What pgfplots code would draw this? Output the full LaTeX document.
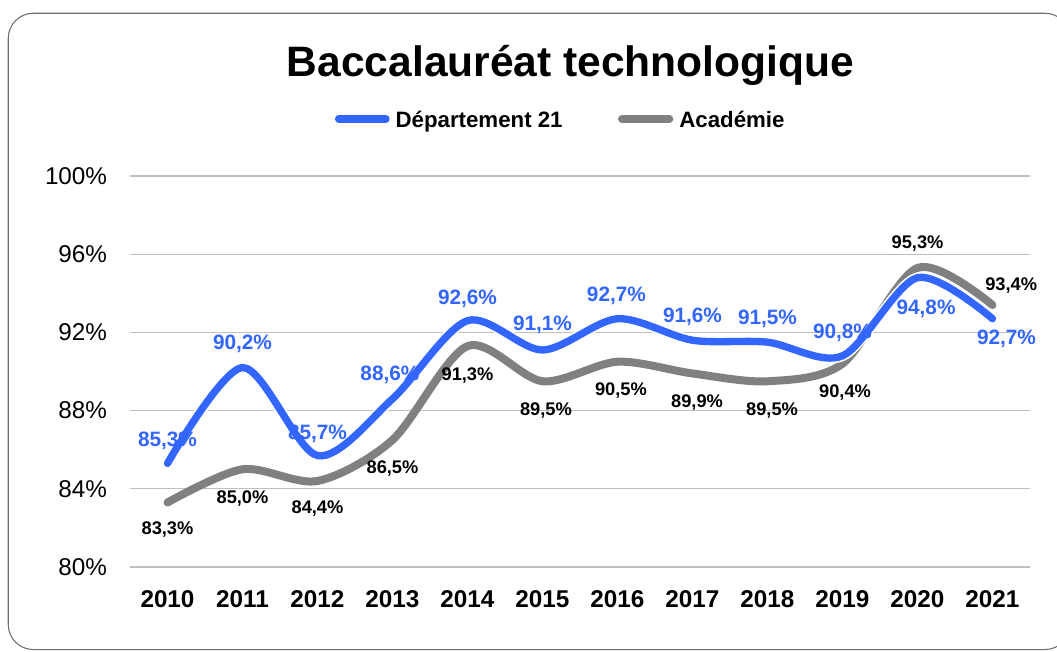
\documentclass[border=0pt]{standalone}
\usepackage{fontspec}
\setmainfont{Liberation Sans}
\usepackage{pgfplots}
\usepackage{pgfplotstable}
\pgfplotsset{compat=1.18}
\pgfkeys{/pgf/number format/assume math mode=true}
\definecolor{depblue}{HTML}{3366FF}
\definecolor{acagray}{HTML}{808080}
\definecolor{gridgray}{HTML}{BFBFBF}
\definecolor{framegray}{HTML}{6E6E6E}

% year, value, label shift (pt)
\pgfplotstableread{
year val dx dy
2010 85.3 0 18
2011 90.2 0 19.2
2012 85.7 0 17.5
2013 88.6 -1.9 19.4
2014 92.6 0 17.8
2015 91.1 0 20.2
2016 92.7 -0.8 18.5
2017 91.6 0 18.8
2018 91.5 0 18.8
2019 90.8 0 18.7
2020 94.8 6.4 -22.5
2021 92.7 10.5 -14
}\dep

\pgfplotstableread{
year val dx dy
2010 83.3 0 -19.4
2011 85.0 0 -20.6
2012 84.4 0 -19.3
2013 86.5 0 -20.1
2014 91.3 0 -20.8
2015 89.5 2.6 -20.8
2016 90.5 2.6 -20.5
2017 89.9 3.4 -20.7
2018 89.5 3.4 -20.8
2019 90.4 1.9 -20.5
2020 95.3 0 19.4
2021 93.4 14 16
}\aca

\tikzset{
  lbl/.style={anchor=center, inner sep=0pt, text depth=0pt}
}

\begin{document}
\begin{tikzpicture}
\useasboundingbox (0pt,0pt) rectangle (792.75pt,488.25pt);
\draw[framegray, line width=0.8pt, rounded corners=18.75pt] (6.2pt,1.1pt) rectangle (802.5pt,478.3pt);
\node[font=\fontsize{31.9}{36}\selectfont\bfseries, anchor=base] at (427.9pt,430.7pt) {Baccalauréat technologique};

\begin{axis}[
  at={(97.5pt,63pt)}, anchor=south west,
  scale only axis, width=675pt, height=293.25pt,
  xmin=2009.5, xmax=2021.5, ymin=80, ymax=100,
  xtick={2010,...,2021}, ytick={80,84,...,100},
  clip=false,
  axis line style={draw=none},
  major tick length=0pt,
  ymajorgrids, grid style={gridgray, line width=1pt},
  /pgf/number format/assume math mode=true,
  yticklabel={\pgfmathprintnumber{\tick}\%},
  yticklabel style={font=\fontsize{18.2}{20}\selectfont, inner sep=0pt, xshift=-17pt},
  xticklabel style={font=\fontsize{18.2}{20}\selectfont\bfseries, inner sep=0pt, yshift=-17.25pt, /pgf/number format/1000 sep={}},
  legend columns=2,
  legend style={at={(axis description cs:0.2274,1.1458)}, anchor=west,
    draw=none, fill=none, inner sep=0pt,
    nodes={inner sep=0pt, text depth=0pt},
    font=\fontsize{16.7}{20}\selectfont\bfseries,
    /tikz/every odd column/.append style={column sep=4.5pt},
    /tikz/every even column/.append style={column sep=41.5pt}},
  legend image code/.code={\draw[#1, line cap=round] (2.75pt,0pt) -- (38.25pt,0pt);},
  legend entries={Département 21, Académie},
]
\addlegendimage{depblue, line width=5.5pt}
\addlegendimage{acagray, line width=6pt}

\addplot[acagray, line width=6pt, line cap=round, smooth, tension=0.5, forget plot]
  table[x=year, y=val] {\aca};
\addplot[white, line width=7.9pt, line cap=round, smooth, tension=0.5, forget plot]
  table[x=year, y=val] {\dep};
\addplot[depblue, line width=5.5pt, line cap=round, smooth, tension=0.5, forget plot]
  table[x=year, y=val] {\dep};

% data labels
\addplot[draw=none, mark=none, forget plot, point meta=explicit,
  nodes near coords={\pgfmathprintnumber[fixed,fixed zerofill,precision=1,use comma]{\pgfplotspointmeta}\%},
  visualization depends on={\thisrow{dx}\as\ldx},
  visualization depends on={\thisrow{dy}\as\ldy},
  every node near coord/.append style={lbl, xshift=\ldx pt, yshift=\ldy pt,
    text=black, font=\fontsize{13.7}{16}\selectfont\bfseries}]
  table[x=year, y=val, meta=val] {\aca};
\addplot[draw=none, mark=none, forget plot, point meta=explicit,
  nodes near coords={\pgfmathprintnumber[fixed,fixed zerofill,precision=1,use comma]{\pgfplotspointmeta}\%},
  visualization depends on={\thisrow{dx}\as\ldx},
  visualization depends on={\thisrow{dy}\as\ldy},
  every node near coord/.append style={lbl, xshift=\ldx pt, yshift=\ldy pt,
    text=depblue, font=\fontsize{15.6}{18}\selectfont\bfseries}]
  table[x=year, y=val, meta=val] {\dep};
\end{axis}
\end{tikzpicture}
\end{document}
